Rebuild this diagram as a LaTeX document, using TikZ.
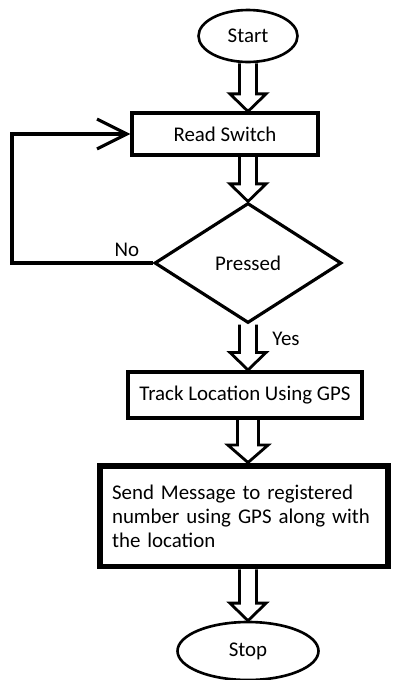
\documentclass[tikz,border=0pt]{standalone}
\usepackage{fontspec}
\setmainfont{Carlito}
\usetikzlibrary{arrows.meta,shapes.geometric,calc}

\tikzset{
  term/.style={ellipse, draw, line width=1.5pt, inner sep=0pt},
  proc/.style={rectangle, draw, line width=1.8pt, inner sep=0pt},
  decision/.style={diamond, draw, line width=1.8pt, inner sep=0pt,
    minimum width=3.74cm, minimum height=2.4cm},
  block/.style={draw, line width=1.6pt, line join=miter},
  back/.style={draw, line width=1.8pt, -{Straight Barb[length=17pt,width=17pt]}},
}

% hollow down arrow on the spine, from the bottom of #2 to the top of #3
\newcommand\blockarrow[3][4.8pt]{%
  \draw[block] let \p1=(spine |- #2.south), \p2=(spine |- #3.north) in
    (\x1-#1,\y1) -- (\x1-#1,\y2+10pt) -- (\x1-#1-5.5pt,\y2+10pt) -- (\x2,\y2)
    -- (\x1+#1+5.5pt,\y2+10pt) -- (\x1+#1,\y2+10pt) -- (\x1+#1,\y1);}

\begin{document}
\begin{tikzpicture}[x=0.02cm, y=-0.02cm, font=\fontsize{11.9pt}{13.6pt}\selectfont]
\useasboundingbox (0,0) rectangle (398,680);
\coordinate (spine) at (248,0);

\node [term, minimum width=1.98cm, minimum height=1.04cm] (start) at (248,36) {Start};
\node [proc, minimum width=3.72cm, minimum height=0.84cm] (read) at (225,134) {Read Switch};
\node [decision] (pressed) at (248,263) {Pressed};
\node [proc, line width=2.3pt, minimum width=4.68cm, minimum height=0.92cm] (track) at (245,395) {Track Location Using GPS};
\node [proc, line width=3.4pt, minimum width=5.76cm, minimum height=2.02cm,
  text width=5.28cm, align=left] (send) at (244,516)
  {Send Message to registered\\number using GPS along with\\the location};
\node [term, minimum width=2.82cm, minimum height=1.16cm] (stop) at (248,651) {Stop};

\blockarrow{start}{read}
\blockarrow{read}{pressed}
\blockarrow{pressed}{track}
\blockarrow[6pt]{track}{send}
\blockarrow{send}{stop}

% no: back round to the switch
\coordinate (loop) at (12,263);
\draw [back] (pressed.west) -- (loop) |- (read.west);
\node (no) at (127,250) {No};
\node (yes) at (286,339) {Yes};
\end{tikzpicture}
\end{document}
